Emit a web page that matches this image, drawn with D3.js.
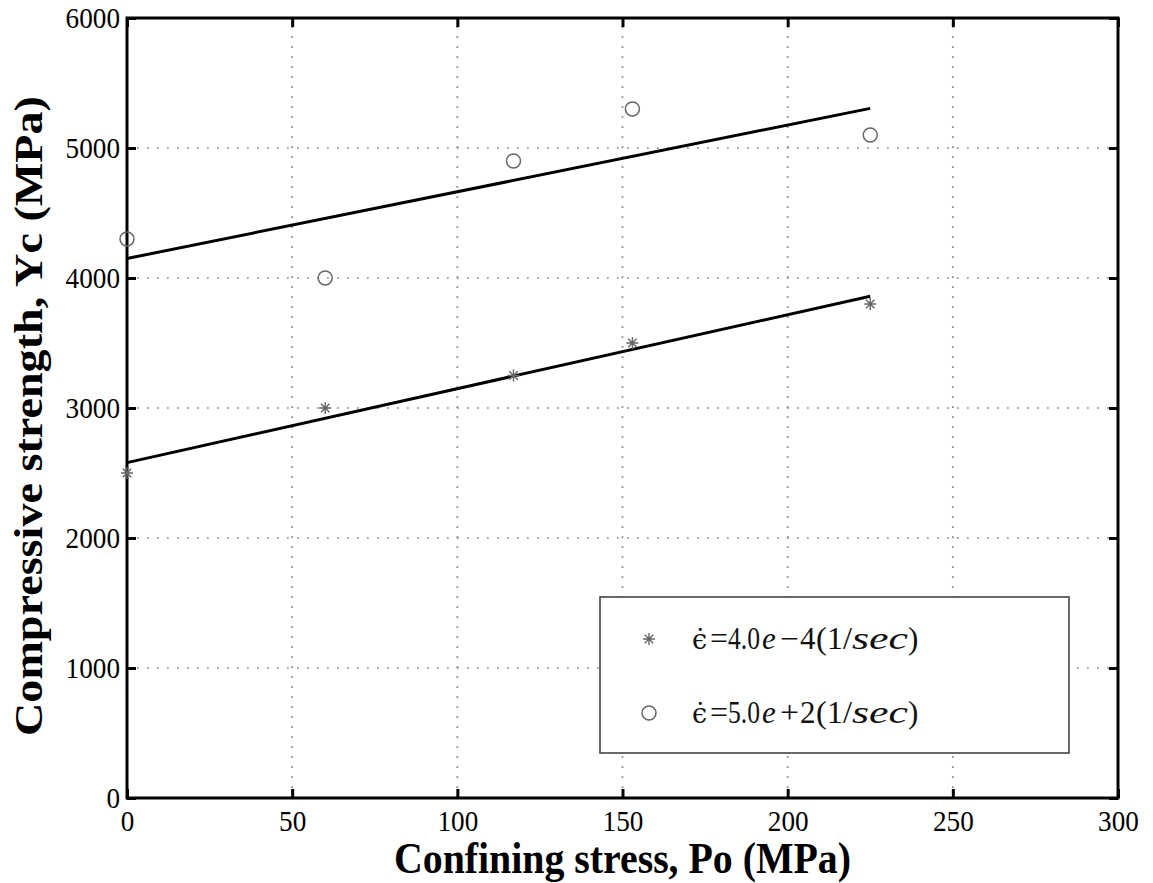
<!DOCTYPE html>
<html>
<head>
<meta charset="utf-8">
<script src="https://cdn.jsdelivr.net/npm/d3@7"></script>
<style>
  html, body { margin: 0; padding: 0; background: #fff; }
  svg { display: block; }
  svg text { font-family: "Liberation Serif", serif; }
</style>
</head>
<body>
<svg id="chart" width="1153" height="883"></svg>
<script>
// Tick values for both axes
const xTicks = [0, 50, 100, 150, 200, 250, 300];
const yTicks = [0, 1000, 2000, 3000, 4000, 5000, 6000];

// Confining stress Po (MPa) for each test
const pressure = [0, 60, 117, 153, 225];
// Compressive strength Yc (MPa) at the two strain rates
const strengthSlow = [2500, 3000, 3250, 3500, 3800];   // 4.0e-4 1/sec
const strengthFast = [4300, 4000, 4900, 5300, 5100];   // 5.0e+2 1/sec

// Linear fit end points
const fitRange = [0, 225];
const fitSlow = [2580, 3860];
const fitFast = [4150, 5305];

const svg = d3.select("#chart");
const plotLeft = 127, plotRight = 1118, plotTop = 18, plotBottom = 798;

const x = d3.scaleLinear().domain([0, 300]).range([plotLeft, plotRight]);
const y = d3.scaleLinear().domain([0, 6000]).range([plotBottom, plotTop]);

const serif = "Liberation Serif";

// dotted grid
const grid = svg.append("g").attr("stroke", "#858585").attr("stroke-width", 1.7)
  .attr("stroke-dasharray", "1.7,8.3").attr("fill", "none");
grid.selectAll("line.v").data(xTicks.slice(1, -1)).join("line").attr("class", "v")
  .attr("x1", d => x(d)).attr("x2", d => x(d)).attr("y1", y(0)).attr("y2", y(6000));
grid.selectAll("line.h").data(yTicks.slice(1, -1)).join("line").attr("class", "h")
  .attr("y1", d => y(d)).attr("y2", d => y(d)).attr("x1", x(0)).attr("x2", x(300));

// axes with inward ticks on all four sides
function styleAxis(g) {
  g.attr("font-family", serif).attr("font-size", 29);
  g.select(".domain").remove();
  g.selectAll(".tick line").attr("stroke", "#000").attr("stroke-width", 3);
  g.selectAll(".tick text")
    .attr("fill", "#000")
    .attr("font-family", serif)
    .style("font-family", serif)
    .style("font-size", "29px")
    .attr("textLength", function () { return this.textContent.length * 13.6; })
    .attr("lengthAdjust", "spacingAndGlyphs");
}
svg.append("g").attr("transform", `translate(0,${plotBottom})`)
  .call(d3.axisBottom(x).tickValues(xTicks).tickSize(-9).tickPadding(12).tickFormat(d3.format("d")))
  .call(styleAxis);
svg.append("g").attr("transform", `translate(${plotLeft},0)`)
  .call(d3.axisLeft(y).tickValues(yTicks).tickSize(-9).tickPadding(7).tickFormat(d3.format("d")))
  .call(styleAxis);
svg.append("g").attr("transform", `translate(0,${plotTop})`)
  .call(d3.axisTop(x).tickValues(xTicks).tickSize(-9).tickFormat(""))
  .call(styleAxis);
svg.append("g").attr("transform", `translate(${plotRight},0)`)
  .call(d3.axisRight(y).tickValues(yTicks).tickSize(-9).tickFormat(""))
  .call(styleAxis);

// frame
svg.append("rect").attr("x", plotLeft).attr("y", plotTop)
  .attr("width", plotRight - plotLeft).attr("height", plotBottom - plotTop)
  .attr("fill", "none").attr("stroke", "#000").attr("stroke-width", 3);

// fit lines
const line = d3.line().x(d => x(d[0])).y(d => y(d[1]));
[fitSlow, fitFast].forEach(f => {
  svg.append("path").datum(d3.zip(fitRange, f)).attr("d", line)
    .attr("fill", "none").attr("stroke", "#000").attr("stroke-width", 3);
});

// eight-pointed star marker
const starSymbol = {
  draw(ctx, size) {
    const r = Math.sqrt(size) / 2, d = r * Math.SQRT1_2;
    ctx.moveTo(-r, 0); ctx.lineTo(r, 0);
    ctx.moveTo(0, -r); ctx.lineTo(0, r);
    ctx.moveTo(-d, -d); ctx.lineTo(d, d);
    ctx.moveTo(-d, d); ctx.lineTo(d, -d);
  }
};
const star = d3.symbol().type(starSymbol).size(144);

svg.append("g").selectAll("path").data(d3.zip(pressure, strengthSlow)).join("path")
  .attr("transform", d => `translate(${x(d[0])},${y(d[1])})`)
  .attr("d", star).attr("fill", "none").attr("stroke", "#666").attr("stroke-width", 1.4);

svg.append("g").selectAll("circle").data(d3.zip(pressure, strengthFast)).join("circle")
  .attr("cx", d => x(d[0])).attr("cy", d => y(d[1])).attr("r", 7)
  .attr("fill", "none").attr("stroke", "#666").attr("stroke-width", 1.5);

// axis titles
svg.append("text")
  .attr("x", (plotLeft + plotRight) / 2).attr("y", 873)
  .attr("text-anchor", "middle")
  .attr("font-family", serif).attr("font-size", 45).attr("font-weight", "bold")
  .attr("textLength", 457).attr("lengthAdjust", "spacingAndGlyphs")
  .text("Confining stress, Po (MPa)");

svg.append("text")
  .attr("transform", `translate(42,${(plotTop + plotBottom) / 2 + 8}) rotate(-90)`)
  .attr("text-anchor", "middle")
  .attr("font-family", serif).attr("font-size", 40).attr("font-weight", "bold")
  .attr("textLength", 640).attr("lengthAdjust", "spacingAndGlyphs")
  .text("Compressive strength, Yc (MPa)");

// legend
const legend = svg.append("g");
legend.append("rect").attr("x", 600).attr("y", 597).attr("width", 469).attr("height", 156)
  .attr("fill", "#fff").attr("stroke", "#444").attr("stroke-width", 1.6);

legend.append("path").attr("transform", "translate(649,639)")
  .attr("d", star).attr("fill", "none").attr("stroke", "#666").attr("stroke-width", 1.4);
legend.append("circle").attr("cx", 649).attr("cy", 713).attr("r", 7)
  .attr("fill", "none").attr("stroke", "#666").attr("stroke-width", 1.5);

const legendRows = [
  { base: 649, mant: "4.0", exp: "\u22124" },
  { base: 723, mant: "5.0", exp: "+2" }
];
legendRows.forEach(r => {
  const t = legend.append("text").attr("y", r.base)
    .attr("font-family", serif).attr("font-size", 31)
    .attr("fill", "#111");
  const piece = (s, px, italic, len) => {
    const ts = t.append("tspan").attr("x", px).text(s).attr("font-family", serif);
    if (italic) ts.attr("font-style", "italic");
    if (len) ts.attr("textLength", len).attr("lengthAdjust", "spacingAndGlyphs");
    return ts;
  };
  t.append("tspan").attr("x", 692).text("\u03F5\u0307")
    .attr("font-family", "DejaVu Serif").attr("font-size", 27);
  piece("=", 710, false, 18);
  piece(r.mant, 728, false, 32);
  piece("e", 762, true);
  piece(r.exp.charAt(0), 780, false, 19);
  piece(r.exp.charAt(1), 800, false);
  piece("(1/", 816, false, 36);
  piece("sec", 852, true, 56);
  piece(")", 908, false);
});
</script>
</body>
</html>
